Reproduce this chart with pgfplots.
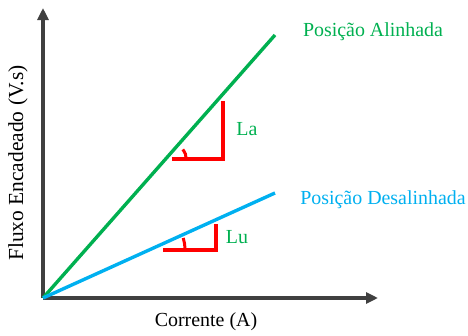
\documentclass[border=0pt]{standalone}
\usepackage{fontspec}
\setmainfont{Liberation Serif}
\usepackage{pgfplots}
\pgfplotsset{compat=1.18}
\usetikzlibrary{arrows.meta}
\definecolor{cgreen}{HTML}{00B050}
\definecolor{cblue}{HTML}{00B0F0}
\definecolor{cred}{HTML}{FF0000}
\definecolor{cgray}{HTML}{404040}
\tikzset{bigf/.style={font=\fontsize{20}{23}\selectfont, inner sep=0pt}}
\begin{document}
\begin{tikzpicture}
\begin{axis}[
  scale only axis, width=335bp, height=290bp,
  xmin=0, xmax=335, ymin=0, ymax=290,
  axis lines=left,
  axis line style={cgray, line width=3.2bp, -{Triangle[length=12bp,width=11bp]}},
  xtick=\empty, ytick=\empty,
  clip=false,
]
\addplot[cgreen, line width=3.4bp] coordinates {(0,0) (232,263)};
\addplot[cblue, line width=3.4bp] coordinates {(0,0) (232,105)};
\addplot[cred, line width=3.4bp, line join=miter] coordinates {(129,139) (180,139) (180,197)};
\addplot[cred, line width=3.4bp, line join=miter] coordinates {(120,48) (173,48) (173,74)};
\addplot[cred, line width=3bp, smooth] coordinates {(143,139) (142.4,144.1) (139.8,148.6)};
\addplot[cred, line width=3bp, smooth] coordinates {(142,48) (141.6,54) (140.2,60)};
\node[bigf, text=cgreen] at (axis cs:204,169) {La};
\node[bigf, text=cgreen] at (axis cs:194,61) {Lu};
\node[bigf, text=cgreen] at (axis cs:330,266) {Posição Alinhada};
\node[bigf, text=cblue] at (axis cs:340,98) {Posição Desalinhada};
\node[bigf] at (axis cs:163,-24) {Corrente (A)};
\node[bigf, rotate=90, font=\fontsize{21.5}{24}\selectfont] at (axis cs:-25,135) {Fluxo Encadeado (V.s)};
\coordinate (BL) at (axis cs:-43,-38);
\coordinate (TR) at (axis cs:425,298);
\end{axis}
\pgfresetboundingbox
\useasboundingbox (BL) rectangle (TR);
\end{tikzpicture}
\end{document}
